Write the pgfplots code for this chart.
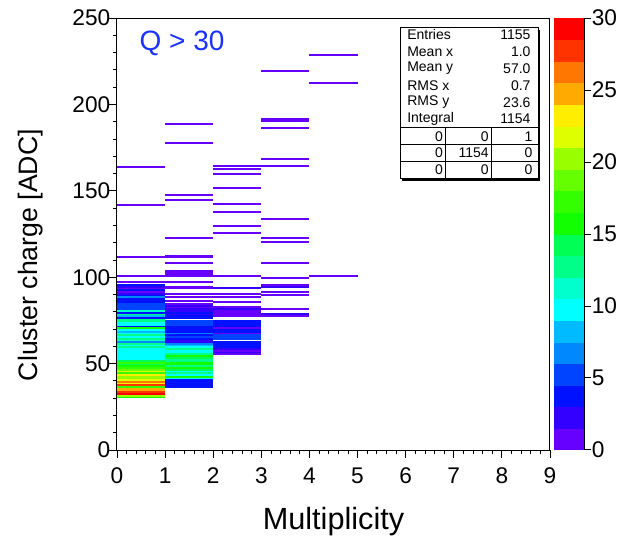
\documentclass[border=0pt]{standalone}
\usepackage{fontspec}
\setmainfont{Liberation Sans}
\usepackage{pgfplots}
\usepackage{pgfplotstable}
\pgfplotsset{compat=1.18}
\pgfdeclareplotmark{cell}{\pgfpathrectangle{\pgfpoint{-18.0417pt}{-0.75pt}}{\pgfpoint{36.0833pt}{1.5pt}}\pgfusepathqfill}
\definecolor{qblue}{RGB}{25,50,255}

\pgfplotstableread{
x y c
0 30 16
0 31 20
0 32 29
0 33 28
0 34 25
0 35 25
0 36 17
0 37 27
0 38 23
0 39 26
0 40 21
0 41 20
0 42 20
0 43 23
0 44 17
0 45 21
0 46 18
0 47 17
0 48 15
0 49 14
0 50 17
0 51 14
0 52 10
0 53 10
0 54 10
0 55 10
0 56 10
0 57 10
0 58 10
0 59 13
0 60 10
0 61 12
0 62 7
0 63 11
0 64 13
0 65 10
0 66 13
0 67 10
0 68 8
0 69 10
0 70 15
0 71 4
0 72 10
0 73 9
0 74 12
0 75 13
0 76 4
0 77 8
0 78 13
0 79 4
0 80 11
0 81 5
0 82 5
0 83 5
0 84 5
0 85 4
0 86 4
0 87 3
0 88 7
0 89 3
0 90 2
0 91 1
0 92 3
0 93 1
0 94 2
0 95 4
0 97 1
0 100 1
0 111 1
0 141 1
0 163 1
1 36 4
1 37 4
1 38 4
1 39 4
1 40 4
1 41 10
1 42 15
1 43 10
1 44 12
1 45 10
1 46 14
1 47 16
1 48 13
1 49 15
1 50 16
1 51 12
1 52 13
1 53 14
1 54 16
1 55 12
1 56 10
1 57 10
1 58 12
1 59 10
1 60 8
1 61 7
1 62 2
1 63 2
1 64 3
1 65 5
1 66 4
1 67 7
1 68 4
1 69 3
1 70 4
1 71 4
1 72 5
1 73 5
1 74 5
1 76 4
1 77 3
1 78 2
1 79 3
1 80 2
1 81 2
1 82 1
1 83 2
1 84 1
1 86 1
1 88 1
1 90 1
1 93 1
1 94 1
1 97 1
1 100 1
1 101 1
1 102 1
1 103 1
1 108 1
1 111 1
1 112 1
1 122 1
1 144 1
1 147 1
1 177 1
1 188 1
2 55 1
2 56 2
2 57 1
2 58 2
2 59 4
2 60 4
2 61 3
2 62 4
2 64 5
2 65 5
2 66 5
2 67 1
2 68 4
2 69 4
2 70 1
2 71 4
2 72 3
2 73 4
2 74 4
2 77 1
2 78 1
2 79 1
2 80 1
2 81 2
2 82 1
2 85 1
2 88 1
2 90 1
2 93 2
2 100 1
2 125 1
2 129 1
2 137 1
2 142 1
2 151 1
2 159 1
2 162 1
2 164 1
3 77 1
3 78 2
3 81 1
3 89 1
3 91 1
3 94 2
3 95 1
3 99 1
3 108 1
3 120 1
3 122 1
3 133 1
3 164 1
3 168 1
3 186 1
3 190 1
3 191 1
3 219 1
4 100 1
4 212 1
4 228 1
}\hist

\begin{document}
\begin{tikzpicture}
\path[use as bounding box] (-87.75pt,-67.5pt) rectangle (378pt,337.5pt);
\begin{axis}[
  at={(0,0)}, anchor=south west,
  scale only axis, width=324.75pt, height=324pt,
  xmin=0, xmax=9, ymin=0, ymax=250,
  xtick={0,1,...,9}, ytick={0,50,...,250},
  minor x tick num=4, minor y tick num=4,
  tick align=outside, xtick pos=left, ytick pos=left,
  major tick length=6pt, minor tick length=3pt,
  tick style={black, line width=0.6pt},
  axis line style={line width=0.75pt},
  axis on top,
  /pgf/number format/assume math mode=true,
  ticklabel style={font=\fontsize{17}{20}\selectfont},
  xticklabel style={yshift=-4pt},
  yticklabel style={xshift=4.5pt},
  xlabel={Multiplicity},
  ylabel={Cluster charge [ADC]},
  xlabel style={font=\fontsize{23}{27}\selectfont, at={(axis description cs:0.5,0)}, anchor=center, yshift=-53.5pt},
  ylabel style={font=\fontsize{20}{24}\selectfont, at={(axis description cs:0,0.451)}, anchor=center, rotate=0, yshift=65pt},
  colormap={rootpal}{rgb255=(102,0,255) rgb255=(51,0,255) rgb255=(0,17,255) rgb255=(0,68,255) rgb255=(0,136,255) rgb255=(0,187,255) rgb255=(0,255,255) rgb255=(0,255,204) rgb255=(0,255,136) rgb255=(0,255,85) rgb255=(17,255,0) rgb255=(51,255,0) rgb255=(102,255,0) rgb255=(153,255,0) rgb255=(221,255,0) rgb255=(255,238,0) rgb255=(255,170,0) rgb255=(255,119,0) rgb255=(255,51,0) rgb255=(255,0,0)},
  colormap access=piecewise constant,
  point meta min=-0.01, point meta max=30,
  colorbar,
  colorbar style={
    at={(parent axis.north east)}, anchor=north west, xshift=-6pt,
    width=23.25pt,
    ytick={0,5,...,30},
    axis x line=none, axis y line*=right,
    axis on top,
    tick align=outside, major tick length=5pt,
    tick style={black, line width=0.6pt},
    axis line style={black, line width=0.75pt},
    /pgf/number format/assume math mode=true,
    yticklabel style={font=\fontsize{17}{20}\selectfont, xshift=-3pt},
  },
]
\addplot[scatter, only marks, mark=cell, scatter src=explicit,
  scatter/use mapped color={draw=mapped color, fill=mapped color}]
  table[x expr=\thisrow{x}+0.5, y expr=\thisrow{y}+0.5, meta=c] {\hist};

\node[text=qblue, font=\fontsize{21}{24}\selectfont, anchor=center] at (axis cs:1.351,235.5) {Q > 30};

% stats box
\fill[black] (axis cs:5.925,155.8) rectangle (axis cs:8.793,243.2);
\filldraw[fill=white, draw=black, line width=0.6pt] (axis cs:5.882,157.4) rectangle (axis cs:8.751,244.8);
\draw[line width=0.6pt] (axis cs:5.882,186.5) -- (axis cs:8.751,186.5);
\draw[line width=0.6pt] (axis cs:5.882,176.7) -- (axis cs:8.751,176.7);
\draw[line width=0.6pt] (axis cs:5.882,167.0) -- (axis cs:8.751,167.0);
\draw[line width=0.6pt] (axis cs:6.83,186.5) -- (axis cs:6.83,157.4);
\draw[line width=0.6pt] (axis cs:7.774,186.5) -- (axis cs:7.774,157.4);
\begin{scope}[every node/.style={font=\fontsize{10.5}{12}\selectfont, inner sep=0pt}]
\node[anchor=west] at (axis cs:6.028,240.2) {Entries};
\node[anchor=west] at (axis cs:6.028,230.5) {Mean x};
\node[anchor=west] at (axis cs:6.028,220.7) {Mean y};
\node[anchor=west] at (axis cs:6.028,211.0) {RMS x};
\node[anchor=west] at (axis cs:6.028,201.2) {RMS y};
\node[anchor=west] at (axis cs:6.028,191.6) {Integral};
\node[anchor=east] at (axis cs:8.6,240.2) {1155};
\node[anchor=east] at (axis cs:8.6,230.5) {1.0};
\node[anchor=east] at (axis cs:8.6,220.7) {57.0};
\node[anchor=east] at (axis cs:8.6,211.0) {0.7};
\node[anchor=east] at (axis cs:8.6,201.2) {23.6};
\node[anchor=east] at (axis cs:8.6,191.6) {1154};
\node[anchor=east] at (axis cs:6.78,181.6) {0};
\node[anchor=east] at (axis cs:7.73,181.6) {0};
\node[anchor=east] at (axis cs:8.64,181.6) {1};
\node[anchor=east] at (axis cs:6.78,171.9) {0};
\node[anchor=east] at (axis cs:7.73,171.9) {1154};
\node[anchor=east] at (axis cs:8.64,171.9) {0};
\node[anchor=east] at (axis cs:6.78,162.2) {0};
\node[anchor=east] at (axis cs:7.73,162.2) {0};
\node[anchor=east] at (axis cs:8.64,162.2) {0};
\end{scope}
\end{axis}
\end{tikzpicture}
\end{document}
